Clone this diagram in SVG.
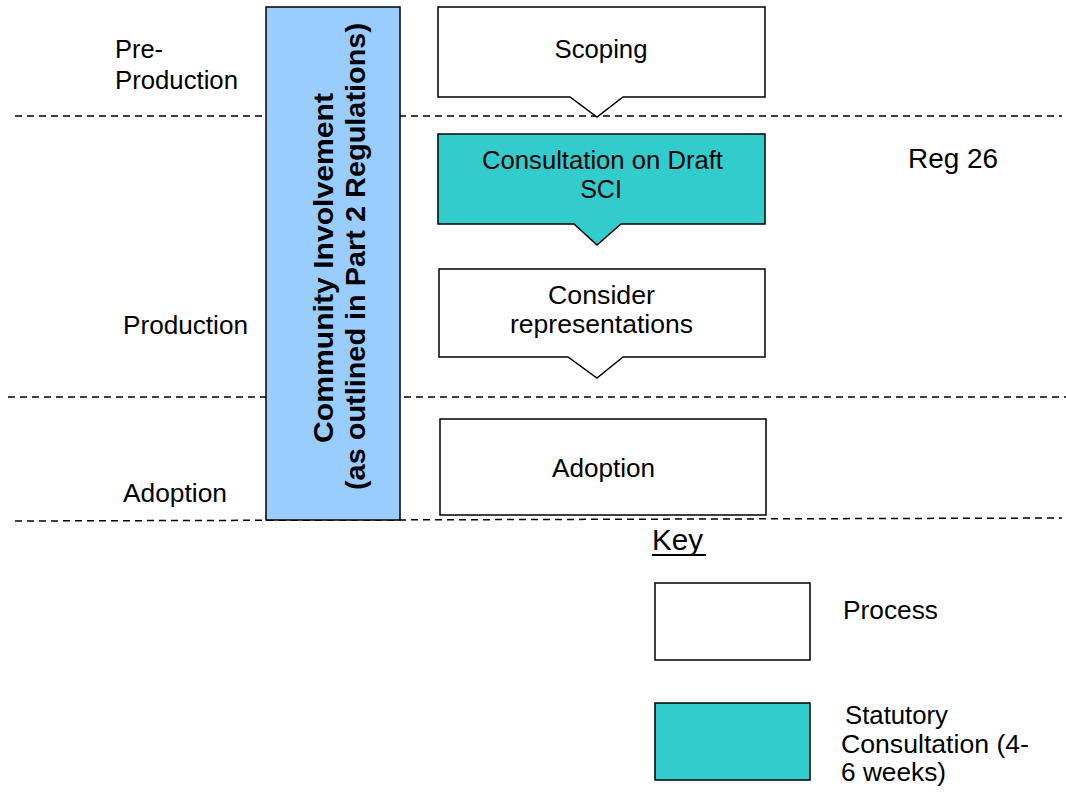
<svg xmlns="http://www.w3.org/2000/svg" width="1066" height="794" viewBox="0 0 1066 794">
  <style>
    .t { font-family: "Liberation Sans", Arial, sans-serif; font-size: 25px; fill: #000; }
    .c { text-anchor: middle; }
    .b { font-weight: bold; font-size: 28px; }
    .box { stroke: #000; stroke-width: 1.5; }
    .proc { fill: #fff; }
    .stat { fill: #33CCCC; }
    .dash { stroke: #000; stroke-width: 1.5; stroke-dasharray: 7 5; fill: none; }
  </style>
  <rect width="1066" height="794" fill="#fff"/>

  <!-- stage separators -->
  <g id="connectors">
    <line class="dash" x1="15" y1="116" x2="1062" y2="116"/>
    <line class="dash" x1="8" y1="397" x2="1066" y2="397"/>
    <line class="dash" x1="15" y1="521" x2="1062" y2="518"/>
  </g>

  <!-- stage labels -->
  <g id="stages">
    <text class="t" x="115" y="58" textLength="48" lengthAdjust="spacingAndGlyphs">Pre-</text>
    <text class="t" x="115" y="89" textLength="123" lengthAdjust="spacingAndGlyphs">Production</text>
    <text class="t" x="123" y="334" textLength="125" lengthAdjust="spacingAndGlyphs">Production</text>
    <text class="t" x="123" y="502" textLength="104" lengthAdjust="spacingAndGlyphs">Adoption</text>
    <text class="t" x="908" y="168" style="font-size:27px" textLength="90" lengthAdjust="spacingAndGlyphs">Reg 26</text>
  </g>

  <!-- community involvement bar -->
  <g id="community">
    <rect class="box" x="266" y="7" width="134" height="513" fill="#99CCFF"/>
    <text class="t b" transform="translate(333,443) rotate(-90)" textLength="350" lengthAdjust="spacingAndGlyphs">Community Involvement</text>
    <text class="t b" transform="translate(365,490) rotate(-90)" textLength="467" lengthAdjust="spacingAndGlyphs">(as outlined in Part 2 Regulations)</text>
  </g>

  <g id="scoping">
    <path class="box proc" d="M438,7 H765 V97 H623 L597,117 L570,97 H438 Z"/>
    <text class="t c" x="601" y="58" textLength="93" lengthAdjust="spacingAndGlyphs">Scoping</text>
  </g>

  <g id="consultation">
    <path class="box stat" d="M438,134 H765 V224 H621 L597,245 L574,224 H438 Z"/>
    <text class="t c" x="602.5" y="169" textLength="241" lengthAdjust="spacingAndGlyphs">Consultation on Draft</text>
    <text class="t c" x="601" y="198">SCI</text>
  </g>

  <g id="consider">
    <path class="box proc" d="M439,269 H765 V357 H623 L597,378 L568,357 H439 Z"/>
    <text class="t c" x="601.5" y="304" textLength="107" lengthAdjust="spacingAndGlyphs">Consider</text>
    <text class="t c" x="601.5" y="333" textLength="183" lengthAdjust="spacingAndGlyphs">representations</text>
  </g>

  <g id="adoption">
    <rect class="box proc" x="440" y="419" width="326" height="96"/>
    <text class="t c" x="603.5" y="477" textLength="103" lengthAdjust="spacingAndGlyphs">Adoption</text>
  </g>

  <!-- key -->
  <g id="key">
    <text class="t" x="652" y="550" style="font-size:29px" textLength="51" lengthAdjust="spacingAndGlyphs">Key</text>
    <line x1="652" y1="555" x2="706" y2="555" stroke="#000" stroke-width="2"/>
    <rect class="box proc" x="655" y="583" width="155" height="77"/>
    <text class="t" x="843" y="619" textLength="95" lengthAdjust="spacingAndGlyphs">Process</text>
    <rect class="box stat" x="655" y="703" width="155" height="77"/>
    <text class="t" x="845" y="724" textLength="103" lengthAdjust="spacingAndGlyphs">Statutory</text>
    <text class="t" x="841" y="753" textLength="188" lengthAdjust="spacingAndGlyphs">Consultation (4-</text>
    <text class="t" x="841" y="781" textLength="105" lengthAdjust="spacingAndGlyphs">6 weeks)</text>
  </g>
</svg>
